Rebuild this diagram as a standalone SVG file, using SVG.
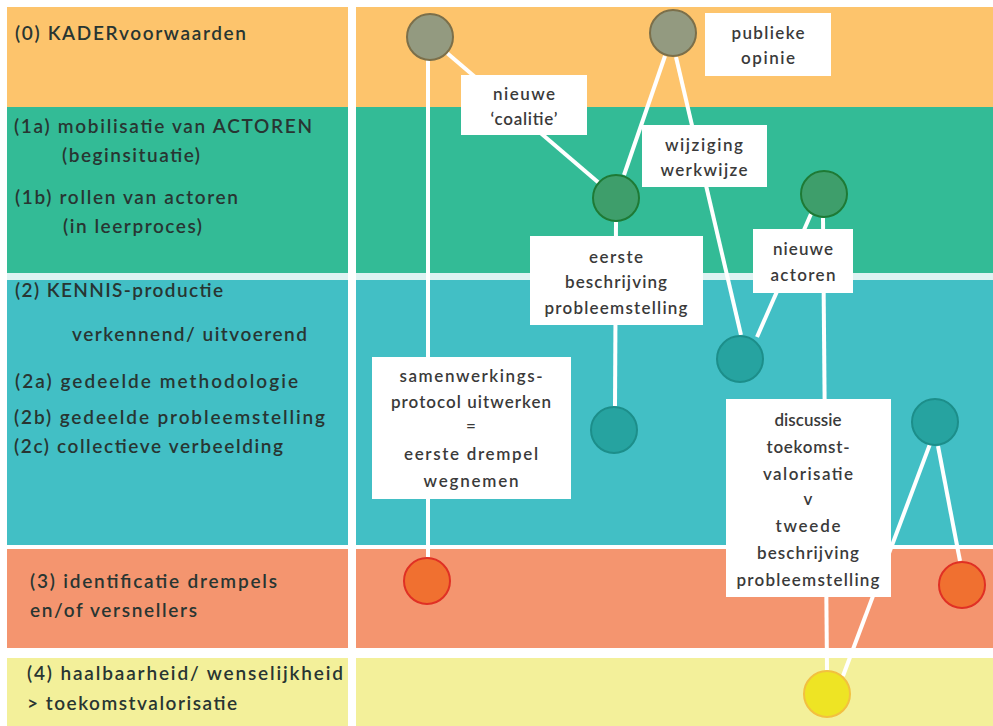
<svg xmlns="http://www.w3.org/2000/svg" width="993" height="726" viewBox="0 0 993 726">
<style>
.lbl{font-family:Lato,"Noto Sans","DejaVu Sans",sans-serif;font-size:19px;font-weight:600;fill:#283532}
.bx{font-family:Lato,"Noto Sans","DejaVu Sans",sans-serif;font-size:17px;font-weight:600;fill:#3a3a3a;text-anchor:middle}
.box{fill:#ffffff}
.con{stroke:#ffffff;stroke-width:4;stroke-linecap:butt;fill:none}
.c0{fill:#939A80;stroke:#7B6F4A;stroke-width:2}
.c1{fill:#3E9E6B;stroke:#1E7A35;stroke-width:2}
.c2{fill:#26A3A0;stroke:#1C8E8A;stroke-width:2}
.c3{fill:#F07030;stroke:#E03024;stroke-width:2}
.c4{fill:#EEE424;stroke:#F2C040;stroke-width:2}
</style>
<rect width="993" height="726" fill="#ffffff"/>
<g id="bands">
<rect x="7" y="7" width="986" height="100" fill="#FDC46C"/>
<rect x="7" y="107" width="986" height="166" fill="#33BB96"/>
<rect x="7" y="273" width="986" height="7" fill="#DDF3F2"/>
<rect x="7" y="280" width="986" height="265" fill="#42BFC5"/>
<rect x="7" y="549" width="986" height="99" fill="#F4956F"/>
<rect x="7" y="658" width="986" height="68" fill="#F3F09A"/>
<rect x="348" y="0" width="8" height="726" fill="#ffffff"/>
</g>
<g id="row-labels">
<text class="lbl" x="15" y="40" textLength="231" lengthAdjust="spacing">(0) KADERvoorwaarden</text>
<text class="lbl" x="14" y="133" textLength="298" lengthAdjust="spacing">(1a) mobilisatie van ACTOREN</text>
<text class="lbl" x="62" y="162" textLength="138" lengthAdjust="spacing">(beginsituatie)</text>
<text class="lbl" x="15" y="204" textLength="223" lengthAdjust="spacing">(1b) rollen van actoren</text>
<text class="lbl" x="63" y="233" textLength="139" lengthAdjust="spacing">(in leerproces)</text>
<text class="lbl" x="15" y="297" textLength="208" lengthAdjust="spacing">(2) KENNIS-productie</text>
<text class="lbl" x="72" y="341" textLength="235" lengthAdjust="spacing">verkennend/ uitvoerend</text>
<text class="lbl" x="15" y="388" textLength="283" lengthAdjust="spacing">(2a) gedeelde methodologie</text>
<text class="lbl" x="14" y="424" textLength="311" lengthAdjust="spacing">(2b) gedeelde probleemstelling</text>
<text class="lbl" x="14" y="453" textLength="269" lengthAdjust="spacing">(2c) collectieve verbeelding</text>
<text class="lbl" x="30" y="588" textLength="247" lengthAdjust="spacing">(3) identificatie drempels</text>
<text class="lbl" x="30" y="617" textLength="167" lengthAdjust="spacing">en/of versnellers</text>
<text class="lbl" x="27" y="680" textLength="316" lengthAdjust="spacing">(4) haalbaarheid/ wenselijkheid</text>
<text class="lbl" x="27" y="710" textLength="210" lengthAdjust="spacing">&gt; toekomstvalorisatie</text>
</g>
<g id="connectors">
<line class="con" x1="428" y1="60" x2="428" y2="557"/>
<line class="con" x1="447" y1="53" x2="599" y2="183"/>
<line class="con" x1="665" y1="56" x2="624" y2="175"/>
<line class="con" x1="676" y1="57" x2="741" y2="335"/>
<line class="con" x1="616" y1="222" x2="615" y2="406"/>
<line class="con" x1="811" y1="214" x2="757" y2="337"/>
<line class="con" x1="823" y1="218" x2="827" y2="670"/>
<line class="con" x1="930" y1="444" x2="843" y2="676"/>
<line class="con" x1="938" y1="446" x2="960" y2="561"/>
</g>
<g id="n-kader1"><circle class="c0" cx="430" cy="37" r="23"/></g>
<g id="n-kader2"><circle class="c0" cx="673" cy="33" r="23"/></g>
<g id="n-actor1"><circle class="c1" cx="616" cy="198" r="23"/></g>
<g id="n-actor2"><circle class="c1" cx="824" cy="194" r="23"/></g>
<g id="n-kennis1"><circle class="c2" cx="740" cy="359" r="23"/></g>
<g id="n-kennis2"><circle class="c2" cx="614" cy="430" r="23"/></g>
<g id="n-kennis3"><circle class="c2" cx="935" cy="422" r="23"/></g>
<g id="n-drempel1"><circle class="c3" cx="427" cy="581" r="23"/></g>
<g id="n-drempel2"><circle class="c3" cx="962" cy="585" r="23"/></g>
<g id="n-haalbaar"><circle class="c4" cx="827" cy="694" r="23"/></g>
<g id="b-coalitie">
<rect class="box" x="461" y="75" width="126" height="60"/>
<text class="bx" x="524" y="100" textLength="62" lengthAdjust="spacing">nieuwe</text>
<text class="bx" x="524" y="125" textLength="67" lengthAdjust="spacing">‘coalitie’</text>
</g>
<g id="b-opinie">
<rect class="box" x="705" y="13" width="126" height="63"/>
<text class="bx" x="768" y="39" textLength="73" lengthAdjust="spacing">publieke</text>
<text class="bx" x="768" y="64" textLength="54" lengthAdjust="spacing">opinie</text>
</g>
<g id="b-werkwijze">
<rect class="box" x="642" y="125" width="125" height="62"/>
<text class="bx" x="704" y="151" textLength="78" lengthAdjust="spacing">wijziging</text>
<text class="bx" x="704" y="176" textLength="87" lengthAdjust="spacing">werkwijze</text>
</g>
<g id="b-eerste">
<rect class="box" x="530" y="236" width="173" height="89"/>
<text class="bx" x="616" y="263" textLength="54" lengthAdjust="spacing">eerste</text>
<text class="bx" x="616" y="288" textLength="102" lengthAdjust="spacing">beschrijving</text>
<text class="bx" x="616" y="314" textLength="143" lengthAdjust="spacing">probleemstelling</text>
</g>
<g id="b-actoren">
<rect class="box" x="753" y="229" width="100" height="64"/>
<text class="bx" x="803" y="255" textLength="60" lengthAdjust="spacing">nieuwe</text>
<text class="bx" x="803" y="281" textLength="65" lengthAdjust="spacing">actoren</text>
</g>
<g id="b-protocol">
<rect class="box" x="372" y="357" width="199" height="142"/>
<text class="bx" x="471" y="382" textLength="143" lengthAdjust="spacing">samenwerkings-</text>
<text class="bx" x="471" y="408" textLength="160" lengthAdjust="spacing">protocol uitwerken</text>
<text class="bx" x="471" y="432">=</text>
<text class="bx" x="471" y="460" textLength="134" lengthAdjust="spacing">eerste drempel</text>
<text class="bx" x="471" y="487" textLength="95" lengthAdjust="spacing">wegnemen</text>
</g>
<g id="b-discussie">
<rect class="box" x="726" y="399" width="165" height="198"/>
<text class="bx" x="808" y="426">discussie</text>
<text class="bx" x="808" y="453" textLength="83" lengthAdjust="spacing">toekomst-</text>
<text class="bx" x="808" y="480" textLength="90" lengthAdjust="spacing">valorisatie</text>
<text class="bx" x="808" y="505">v</text>
<text class="bx" x="808" y="532" textLength="65" lengthAdjust="spacing">tweede</text>
<text class="bx" x="808" y="559" textLength="102" lengthAdjust="spacing">beschrijving</text>
<text class="bx" x="808" y="586" textLength="143" lengthAdjust="spacing">probleemstelling</text>
</g>
</svg>
